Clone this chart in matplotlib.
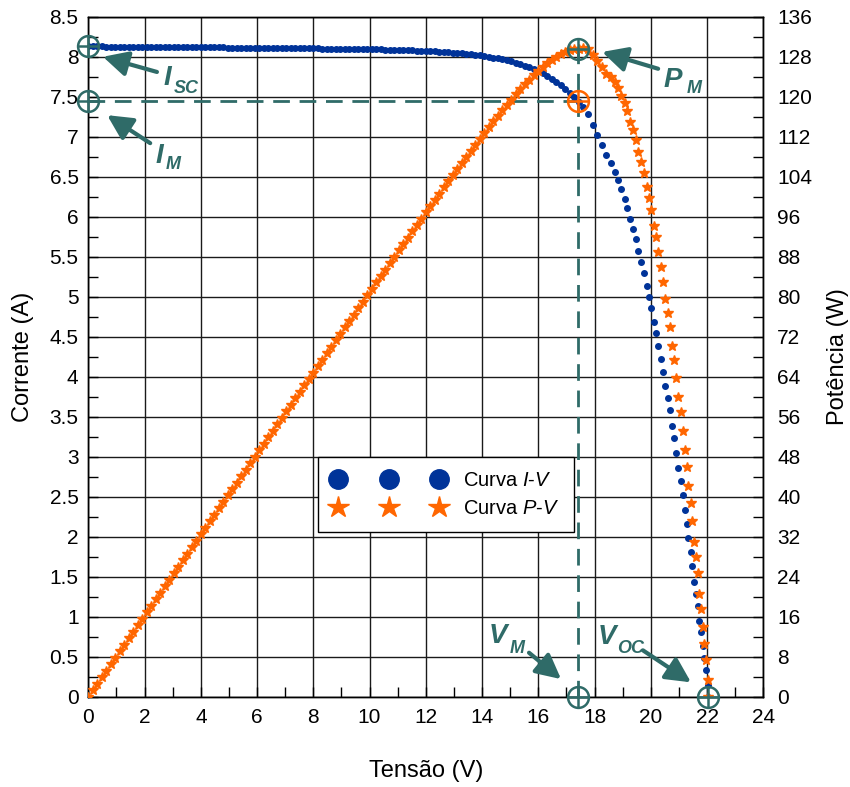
import numpy as np
import matplotlib
matplotlib.use('Agg')
import matplotlib.pyplot as plt
from matplotlib.lines import Line2D
from matplotlib.ticker import MultipleLocator, FuncFormatter

plt.rcParams['font.family'] = ['Liberation Sans', 'DejaVu Sans']
plt.rcParams['mathtext.fontset'] = 'custom'
plt.rcParams['mathtext.it'] = 'Liberation Sans:italic'
plt.rcParams['mathtext.rm'] = 'Liberation Sans'

# Curva I-V medida: tensão (V) e corrente (A)
tensao = [
    0.00, 0.16, 0.32, 0.48, 0.64, 0.80, 0.96, 1.12, 1.28, 1.44,
    1.60, 1.76, 1.92, 2.08, 2.24, 2.40, 2.56, 2.72, 2.88, 3.04,
    3.20, 3.36, 3.52, 3.68, 3.84, 4.00, 4.16, 4.32, 4.48, 4.64,
    4.80, 4.96, 5.12, 5.28, 5.44, 5.60, 5.76, 5.92, 6.08, 6.24,
    6.40, 6.56, 6.72, 6.88, 7.04, 7.20, 7.36, 7.52, 7.68, 7.84,
    8.00, 8.16, 8.32, 8.48, 8.64, 8.80, 8.96, 9.12, 9.28, 9.44,
    9.60, 9.76, 9.92, 10.08, 10.24, 10.40, 10.56, 10.72, 10.88, 11.04,
    11.20, 11.36, 11.52, 11.68, 11.84, 12.00, 12.16, 12.32, 12.48, 12.64,
    12.80, 12.96, 13.12, 13.28, 13.44, 13.60, 13.76, 13.92, 14.08, 14.24,
    14.40, 14.56, 14.72, 14.88, 15.04, 15.20, 15.36, 15.52, 15.68, 15.84,
    16.00, 16.16, 16.32, 16.48, 16.64, 16.80, 16.96, 17.12, 17.28, 17.44,
    17.60, 17.78, 17.96, 18.10, 18.25, 18.41, 18.57, 18.73, 18.84, 18.93,
    19.08, 19.16, 19.26, 19.36, 19.46, 19.56, 19.65, 19.76, 19.85, 19.95,
    20.02, 20.11, 20.20, 20.27, 20.36, 20.44, 20.52, 20.60, 20.68, 20.75,
    20.84, 20.91, 20.98, 21.06, 21.13, 21.21, 21.28, 21.33, 21.42, 21.48,
    21.54, 21.61, 21.67, 21.72, 21.78, 21.84, 21.90, 21.96, 22.02, 22.04,
]
corrente = [
    8.130, 8.130, 8.129, 8.129, 8.128, 8.128, 8.127, 8.127, 8.126, 8.126,
    8.125, 8.125, 8.124, 8.124, 8.123, 8.123, 8.122, 8.122, 8.121, 8.121,
    8.120, 8.120, 8.119, 8.119, 8.118, 8.118, 8.117, 8.117, 8.117, 8.116,
    8.116, 8.115, 8.115, 8.114, 8.114, 8.113, 8.113, 8.112, 8.112, 8.111,
    8.111, 8.110, 8.110, 8.109, 8.109, 8.108, 8.107, 8.107, 8.106, 8.106,
    8.104, 8.104, 8.103, 8.102, 8.102, 8.101, 8.100, 8.100, 8.099, 8.098,
    8.097, 8.095, 8.095, 8.094, 8.092, 8.091, 8.090, 8.088, 8.087, 8.085,
    8.083, 8.082, 8.080, 8.078, 8.075, 8.073, 8.070, 8.067, 8.064, 8.060,
    8.056, 8.052, 8.047, 8.042, 8.037, 8.031, 8.024, 8.017, 8.009, 8.000,
    7.990, 7.980, 7.968, 7.955, 7.941, 7.926, 7.908, 7.890, 7.869, 7.846,
    7.820, 7.792, 7.761, 7.727, 7.690, 7.648, 7.602, 7.552, 7.496, 7.434,
    7.37, 7.29, 7.15, 7.02, 6.90, 6.77, 6.67, 6.56, 6.46, 6.35,
    6.22, 6.11, 5.97, 5.85, 5.72, 5.57, 5.44, 5.30, 5.14, 5.00,
    4.86, 4.68, 4.55, 4.39, 4.22, 4.06, 3.88, 3.73, 3.58, 3.38,
    3.23, 3.05, 2.86, 2.70, 2.52, 2.33, 2.16, 1.98, 1.81, 1.64,
    1.44, 1.29, 1.14, 0.95, 0.81, 0.64, 0.48, 0.33, 0.15, 0.00,
]

# Pontos notáveis
i_sc = 8.13
v_oc = 22.04
v_m = 17.40
i_m = 7.45
p_m = v_m * i_m

# P = V * I
potencia = np.array(tensao) * np.array(corrente)

AZUL = '#003399'
LARANJA = '#FF6600'
VERDE = '#2F6B68'

fig = plt.figure(figsize=(8.5, 7.87), dpi=100)
ax = fig.add_axes([0.1039, 0.1147, 0.7941, 0.8640])
ax2 = ax.twinx()

# eixos
ax.set_xlim(0, 24)
ax.set_ylim(0, 8.5)
ax2.set_ylim(0, 136)
ax.xaxis.set_major_locator(MultipleLocator(2))
ax.xaxis.set_minor_locator(MultipleLocator(1))
ax.yaxis.set_major_locator(MultipleLocator(0.5))
ax.yaxis.set_minor_locator(MultipleLocator(0.25))
ax2.yaxis.set_major_locator(MultipleLocator(8))
ax2.yaxis.set_minor_locator(MultipleLocator(4))
ax.yaxis.set_major_formatter(FuncFormatter(lambda v, p: f'{v:g}'))

ax.grid(True, which='major', color='#1a1a1a', lw=1.0)
ax.set_axisbelow(True)
ax.tick_params(which='both', direction='in', length=7, width=1, labelsize=15)
ax.tick_params(axis='x', pad=8)
ax.tick_params(axis='y', pad=7)
ax2.tick_params(which='both', direction='in', length=7, width=1, labelsize=15, pad=10)
for a in (ax, ax2):
    for s in a.spines.values():
        s.set_linewidth(1.0)
        s.set_color('black')

ax.set_xlabel('Tensão (V)', fontsize=17)
ax.set_ylabel('Corrente (A)', fontsize=17)
ax2.set_ylabel('Potência (W)', fontsize=17)
ax.xaxis.set_label_coords(0.5, -0.093)
ax.yaxis.set_label_coords(-0.08, 0.5)
ax2.yaxis.set_label_coords(1.094, 0.5)

# curvas
ax.plot(tensao, corrente, ls='none', marker='o', ms=4, color=AZUL, mec=AZUL, zorder=3)
ax2.plot(tensao, potencia, ls='none', marker='*', ms=7.5, color=LARANJA, mec=LARANJA, zorder=3)

# linhas tracejadas do ponto de máxima potência
ax.plot([0, v_m], [i_m, i_m], ls=(0, (6, 3.5)), color=VERDE, lw=2, zorder=2)
ax.plot([v_m, v_m], [0, p_m / 16], ls=(0, (6, 3.5)), color=VERDE, lw=2, zorder=2)

# marcadores circulares com cruz
def marca(x, y, cor, trans):
    ax2.plot([x], [y], ls='none', marker='o', ms=15, mfc='none', mec=cor, mew=1.8,
             transform=trans, zorder=6, clip_on=False)
    ax2.plot([x], [y], ls='none', marker='+', ms=15, mec=cor, mew=1.8,
             transform=trans, zorder=6, clip_on=False)

marca(0, i_sc, VERDE, ax.transData)
marca(0, i_m, VERDE, ax.transData)
marca(v_m, i_m, LARANJA, ax.transData)
marca(v_m, p_m, VERDE, ax2.transData)
marca(v_m, 0, VERDE, ax.transData)
marca(v_oc, 0, VERDE, ax.transData)

# setas e rótulos
seta = dict(arrowstyle='-|>,head_length=0.75,head_width=0.38', lw=3, color=VERDE,
            shrinkA=0, shrinkB=0, mutation_scale=20)
setas = [((2.44, 7.81), (0.52, 8.00)),
         ((2.20, 6.92), (0.67, 7.27)),
         ((20.26, 7.85), (18.27, 8.06)),
         ((15.67, 0.55), (16.81, 0.22)),
         ((19.72, 0.58), (21.43, 0.18))]
for cauda, ponta in setas:
    ax2.annotate('', xy=ponta, xytext=cauda, xycoords=ax.transData,
                 textcoords=ax.transData, arrowprops=seta, zorder=7)

rotulos = [('I', 'SC', (2.66, 7.645), (3.05, 7.545)),
           ('I', 'M', (2.38, 6.67), (2.75, 6.60)),
           ('P', 'M', (20.45, 7.62), (21.28, 7.545)),
           ('V', 'M', (14.22, 0.67), (14.98, 0.546)),
           ('V', 'OC', (18.10, 0.66), (18.80, 0.546))]
for letra, sub, p1, p2 in rotulos:
    ax2.text(p1[0], p1[1], letra, transform=ax.transData, fontsize=20,
             fontweight='bold', fontstyle='italic', color=VERDE, va='baseline', ha='left', zorder=8)
    ax2.text(p2[0], p2[1], sub, transform=ax.transData, fontsize=13,
             fontweight='bold', fontstyle='italic', color=VERDE, va='baseline', ha='left', zorder=8)

# legenda
h1 = Line2D([], [], ls='none', marker='o', ms=14, color=AZUL)
h2 = Line2D([], [], ls='none', marker='*', ms=16, color=LARANJA)
leg = ax2.legend([h1, h2], ['Curva $\\mathit{I}$-$\\mathit{V}$', 'Curva $\\mathit{P}$-$\\mathit{V}$'],
                 numpoints=3, handlelength=5.6, handletextpad=0.9, fontsize=14.5,
                 loc='center', bbox_to_anchor=(0.53, 0.297), fancybox=False,
                 framealpha=1, edgecolor='black', borderpad=0.7, labelspacing=0.45,
                 borderaxespad=0)
leg.get_frame().set_linewidth(1.0)
leg.set_zorder(9)

fig.savefig('out.png', dpi=100)
